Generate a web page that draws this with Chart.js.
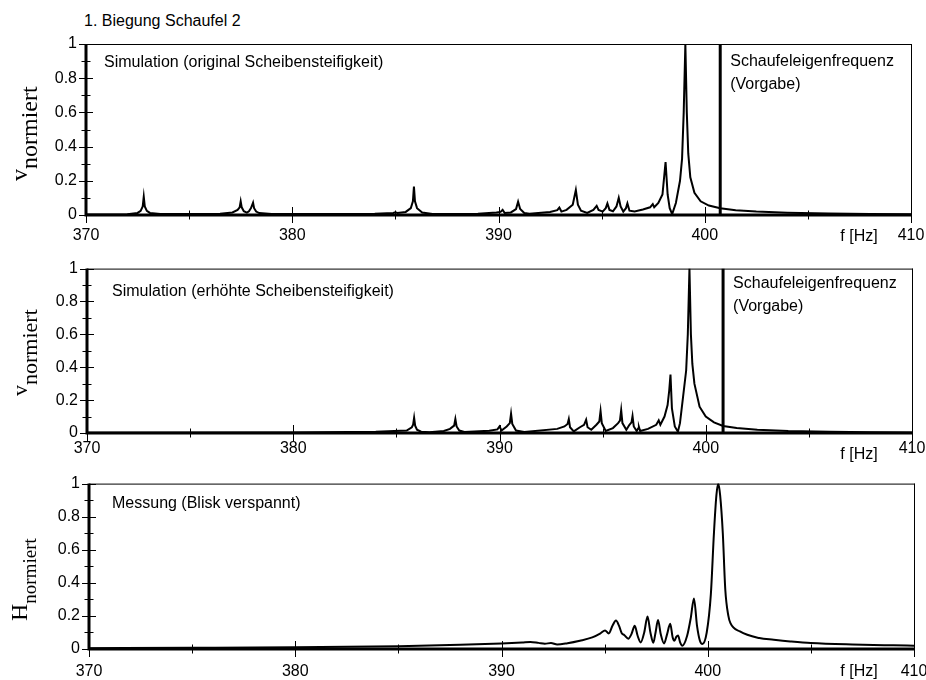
<!DOCTYPE html>
<html><head><meta charset="utf-8">
<script src="https://cdn.jsdelivr.net/npm/chart.js@4/dist/chart.umd.min.js"></script>
<style>
html,body{margin:0;padding:0;background:#fff;overflow:hidden;width:926px;height:680px;}
canvas{position:absolute;left:0;}
#title{position:absolute;left:84px;top:13px;font:16px "Liberation Sans",Arial,sans-serif;line-height:16px;color:#000;white-space:nowrap;}
</style></head><body>
<div id="title">1. Biegung Schaufel 2</div>
<canvas id="c1" width="960" height="250" style="top:0px"></canvas>
<canvas id="c2" width="960" height="215" style="top:250px"></canvas>
<canvas id="c3" width="960" height="215" style="top:465px"></canvas>
<script>
// ---------- data ----------
const xMajor = [370, 380, 390, 400, 410];
const xMinor = [375, 385, 395, 405];
const yMajor = [0, 0.2, 0.4, 0.6, 0.8, 1];
const yMinor = [0.1, 0.3, 0.5, 0.7, 0.9];
const refFreqTop = 400.75;   // Schaufeleigenfrequenz (Vorgabe)
const refFreqMid = 400.84;

// Simulation (original Scheibensteifigkeit)
const topFreq = [370.0, 372.0, 372.5, 372.65, 372.75, 372.8, 372.85, 372.95, 373.1, 373.6,
  376.5, 377.1, 377.35, 377.45, 377.5, 377.55, 377.65, 377.8, 377.9, 378.0, 378.1, 378.15, 378.25, 378.4, 379.0,
  384.0, 384.9, 385.0, 385.1, 385.5, 385.75, 385.85, 385.9, 385.95, 386.05, 386.3, 386.8,
  389.0, 389.9, 390.1, 390.2, 390.3, 390.6, 390.85, 390.95, 391.05, 391.25, 391.5,
  392.5, 392.85, 392.95, 393.05, 393.3, 393.6, 393.75, 393.85, 394.0, 394.3,
  394.6, 394.76, 394.85, 395.05, 395.2, 395.28, 395.38, 395.55, 395.72, 395.83, 395.92, 396.05,
  396.18, 396.25, 396.35, 396.6, 397.0, 397.35, 397.48, 397.55, 397.75, 397.95, 398.1, 398.2, 398.3, 398.42,
  398.6, 398.8, 398.9, 398.98, 399.06, 399.13, 399.2, 399.3, 399.5, 399.8, 400.2, 400.75,
  401.5, 402.5, 404.0, 406.0, 408.0, 410.0];
const topAmp = [0.003, 0.005, 0.012, 0.024, 0.05, 0.107, 0.05, 0.024, 0.012, 0.006,
  0.008, 0.015, 0.03, 0.045, 0.08, 0.045, 0.022, 0.014, 0.022, 0.04, 0.072, 0.04, 0.02, 0.011, 0.006,
  0.007, 0.012, 0.016, 0.012, 0.018, 0.04, 0.08, 0.166, 0.08, 0.04, 0.015, 0.006,
  0.008, 0.014, 0.018, 0.03, 0.012, 0.015, 0.035, 0.078, 0.035, 0.012, 0.007,
  0.018, 0.028, 0.043, 0.02, 0.03, 0.06, 0.146, 0.06, 0.025, 0.012,
  0.03, 0.053, 0.03, 0.02, 0.04, 0.068, 0.03, 0.022, 0.05, 0.101, 0.05, 0.02,
  0.04, 0.068, 0.025, 0.02, 0.032, 0.045, 0.064, 0.045, 0.07, 0.12, 0.31, 0.12, 0.04, 0.005,
  0.07, 0.2, 0.33, 0.6, 1.0, 0.6, 0.36, 0.22, 0.13, 0.08, 0.055, 0.039,
  0.028, 0.02, 0.013, 0.009, 0.006, 0.004];

// Simulation (erhöhte Scheibensteifigkeit)
const midFreq = [370.0, 380.0, 384.0, 385.5, 385.75, 385.81, 385.86, 385.91, 386.0, 386.2, 386.6,
  387.3, 387.6, 387.8, 387.86, 387.92, 388.05, 388.3,
  389.5, 389.9, 390.0, 390.1, 390.35, 390.5, 390.56, 390.62, 390.8, 391.2,
  392.8, 393.15, 393.3, 393.36, 393.42, 393.6, 393.9, 394.1, 394.2, 394.27, 394.45,
  394.7, 394.84, 394.9, 394.96, 395.15, 395.5, 395.75, 395.84, 395.9, 395.96, 396.15,
  396.3, 396.4, 396.45, 396.51, 396.65, 396.72, 396.76, 396.82, 397.2, 397.6, 397.72, 397.8,
  398.0, 398.15, 398.23, 398.29, 398.36, 398.5, 398.65, 398.75, 398.9, 399.05, 399.13, 399.21,
  399.28, 399.35, 399.45, 399.7, 400.0, 400.4, 400.84, 401.5, 402.5, 404.0, 406.0, 408.0, 410.0];
const midAmp = [0.002, 0.003, 0.008, 0.015, 0.035, 0.05, 0.093, 0.045, 0.02, 0.008, 0.005,
  0.012, 0.025, 0.045, 0.085, 0.04, 0.015, 0.006,
  0.014, 0.022, 0.04, 0.015, 0.04, 0.06, 0.117, 0.055, 0.015, 0.006,
  0.025, 0.04, 0.055, 0.085, 0.035, 0.01, 0.035, 0.05, 0.081, 0.035, 0.02,
  0.05, 0.07, 0.133, 0.06, 0.012, 0.03, 0.06, 0.075, 0.139, 0.06, 0.02,
  0.05, 0.065, 0.103, 0.04, 0.012, 0.028, 0.037, 0.012, 0.025, 0.05, 0.077, 0.05,
  0.1, 0.17, 0.26, 0.355, 0.15, 0.04, 0.008, 0.06, 0.22, 0.38, 0.6, 1.0,
  0.6, 0.42, 0.3, 0.16, 0.1, 0.065, 0.043, 0.03, 0.02, 0.012, 0.007, 0.005, 0.003];

// Messung (Blisk verspannt)
const botFreq = [370, 375, 380, 385, 388, 390, 391, 391.4, 391.8, 392.1, 392.4, 392.7, 393.2, 393.8, 394.4,
  394.8, 395.02, 395.2, 395.38, 395.55, 395.7, 395.83, 395.95, 396.15, 396.3, 396.46, 396.6, 396.75,
  396.92, 397.08, 397.22, 397.36, 397.47, 397.59, 397.72, 397.88, 398.03, 398.18, 398.3, 398.38,
  398.48, 398.56, 398.66, 398.77, 399.0, 399.18, 399.33, 399.48, 399.62, 399.74, 399.95, 400.15,
  400.3, 400.42, 400.51, 400.6, 400.73, 400.85, 401.0, 401.1, 401.56, 402.5, 403.2, 404.0, 405.0,
  407.0, 409.0, 410.0];
const botAmp = [0.005, 0.007, 0.01, 0.017, 0.026, 0.034, 0.04, 0.043, 0.037, 0.032, 0.036, 0.027, 0.035, 0.05, 0.07,
  0.095, 0.112, 0.094, 0.14, 0.172, 0.14, 0.095, 0.085, 0.062, 0.09, 0.14, 0.08, 0.04,
  0.1, 0.196, 0.1, 0.038, 0.1, 0.176, 0.09, 0.034, 0.09, 0.152, 0.07, 0.05,
  0.075, 0.082, 0.04, 0.02, 0.08, 0.19, 0.306, 0.14, 0.05, 0.03, 0.1, 0.33,
  0.7, 0.93, 1.0, 0.93, 0.7, 0.36, 0.2, 0.156, 0.106, 0.066, 0.056, 0.046, 0.036,
  0.027, 0.022, 0.02];

// ---------- drawing ----------
const SANS = '"Liberation Sans", Arial, sans-serif';
const SERIF = '"Liberation Serif", "Times New Roman", serif';

const framePlugin = {
  id: 'frame',
  afterDatasetsDraw(chart, args, o) {
    const ctx = chart.ctx, a = chart.chartArea, xs = chart.scales.x, ys = chart.scales.y;
    ctx.save();
    ctx.strokeStyle = '#000';
    ctx.fillStyle = '#000';
    // thin top/right
    ctx.lineWidth = 1;
    ctx.beginPath();
    ctx.moveTo(a.left, a.top + 0.5); ctx.lineTo(a.right + 1, a.top + 0.5);
    ctx.moveTo(a.right + 0.5, a.top); ctx.lineTo(a.right + 0.5, a.bottom);
    ctx.stroke();
    // thick left/bottom
    ctx.lineWidth = 3;
    ctx.beginPath();
    ctx.moveTo(a.left, a.top); ctx.lineTo(a.left, a.bottom + 1.5);
    ctx.moveTo(a.left - 1.5, a.bottom); ctx.lineTo(a.right + 1, a.bottom);
    ctx.stroke();
    // crossing ticks
    ctx.lineWidth = 1;
    ctx.beginPath();
    xMajor.forEach(v => { const p = Math.round(xs.getPixelForValue(v)) + 0.5; ctx.moveTo(p, a.bottom - 8); ctx.lineTo(p, a.bottom + 8); });
    xMinor.forEach(v => { const p = Math.round(xs.getPixelForValue(v)) + 0.5; ctx.moveTo(p, a.bottom - 4.5); ctx.lineTo(p, a.bottom + 4.5); });
    yMajor.forEach(v => { const p = Math.round(ys.getPixelForValue(v)) + 0.5; ctx.moveTo(a.left - 7, p); ctx.lineTo(a.left + 7, p); });
    yMinor.forEach(v => { const p = Math.round(ys.getPixelForValue(v)) + 0.5; ctx.moveTo(a.left - 4.5, p); ctx.lineTo(a.left + 4.5, p); });
    ctx.stroke();
    // annotations
    ctx.font = '16px ' + SANS;
    ctx.textBaseline = 'middle';
    ctx.textAlign = 'left';
    ctx.fillText(o.label, a.left + o.labelDx, a.top + o.labelDy);
    if (o.ref) {
      const rx = xs.getPixelForValue(o.ref) + 10;
      ctx.fillText('Schaufeleigenfrequenz', rx, a.top + o.refDy);
      ctx.fillText('(Vorgabe)', rx, a.top + o.refDy + 23);
    }
    ctx.textAlign = 'center';
    ctx.fillText('f [Hz]', 859, a.bottom + o.fDy);
    // y axis title with subscript
    ctx.save();
    ctx.translate(o.yx, o.yy);
    ctx.rotate(-Math.PI / 2);
    ctx.textAlign = 'left';
    ctx.textBaseline = 'alphabetic';
    ctx.font = o.mainSize + 'px ' + SERIF;
    ctx.fillText(o.main, 0, 0);
    const w = ctx.measureText(o.main).width;
    ctx.font = o.subSize + 'px ' + SERIF;
    ctx.fillText('normiert', w, o.subShift);
    ctx.restore();
    ctx.restore();
  }
};

function makePanel(id, p) {
  const datasets = [{
    data: p.freq.map((f, i) => ({ x: f, y: p.amp[i] })),
    borderColor: '#000', borderWidth: 2, pointRadius: 0,
    tension: 0, cubicInterpolationMode: p.smooth ? 'monotone' : 'default'
  }];
  if (p.ref) {
    datasets.push({ data: [{ x: p.ref, y: 0 }, { x: p.ref, y: 1 }], borderColor: '#000', borderWidth: 3, pointRadius: 0 });
  }
  const font = { family: SANS, size: 16 };
  new Chart(document.getElementById(id), {
    type: 'line',
    data: { datasets },
    plugins: [framePlugin],
    options: {
      responsive: false, animation: false, events: [],
      layout: { padding: { left: 0, top: p.padTop, right: p.padRight, bottom: 0 } },
      plugins: {
        legend: { display: false }, tooltip: { enabled: false },
        frame: p.frame
      },
      scales: {
        x: {
          type: 'linear', min: 370, max: 410,
          afterBuildTicks: s => { s.ticks = xMajor.map(v => ({ value: v })); },
          afterFit: s => { s.height = p.xH; },
          ticks: { font, color: '#000', padding: p.xPad, maxRotation: 0, autoSkip: false, callback: v => String(v) },
          grid: { display: false, drawTicks: false }, border: { display: false }
        },
        y: {
          min: 0, max: 1,
          afterBuildTicks: s => { s.ticks = yMajor.map(v => ({ value: v })); },
          afterFit: s => { s.width = p.yW; },
          ticks: { font, color: '#000', padding: 9, callback: v => String(v) },
          grid: { display: false, drawTicks: false }, border: { display: false }
        }
      }
    }
  });
}

makePanel('c1', { freq: topFreq, amp: topAmp, ref: refFreqTop, padTop: 44, padRight: 49, xH: 35, yW: 86, xPad: 11,
  frame: { label: 'Simulation (original Scheibensteifigkeit)', labelDx: 18, labelDy: 19, ref: refFreqTop, refDy: 18, fDy: 22,
    main: 'v', mainSize: 24, subSize: 24, subShift: 10, yx: 27, yy: 181 } });
makePanel('c2', { freq: midFreq, amp: midAmp, ref: refFreqMid, padTop: 15, padRight: 48, xH: 32, yW: 87, xPad: 6,
  frame: { label: 'Simulation (erhöhte Scheibensteifigkeit)', labelDx: 25, labelDy: 23, ref: refFreqMid, refDy: 15, fDy: 22,
    main: 'v', mainSize: 22, subSize: 22, subShift: 10, yx: 27, yy: 146 } });
makePanel('c3', { freq: botFreq, amp: botAmp, smooth: true, padTop: 18, padRight: 46, xH: 31, yW: 89, xPad: 13,
  frame: { label: 'Messung (Blisk verspannt)', labelDx: 23, labelDy: 20, ref: null, fDy: 23,
    main: 'H', mainSize: 24, subSize: 19, subShift: 9, yx: 27, yy: 156 } });
</script>
</body></html>
